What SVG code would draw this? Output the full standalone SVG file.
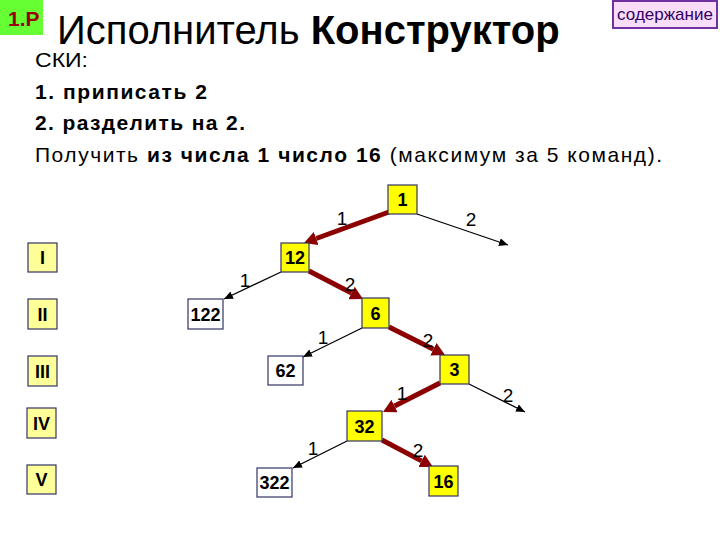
<svg xmlns="http://www.w3.org/2000/svg" width="720" height="540" viewBox="0 0 720 540">
<style>
text{font-family:"Liberation Sans",Arial,sans-serif;}
.nt{font-size:18px;font-weight:bold;text-anchor:middle;fill:#000;}
.el{font-size:19px;text-anchor:middle;fill:#000;}
.y{fill:#FFFF00;stroke:#333366;stroke-width:1.2;}
.w{fill:#FFFFFF;stroke:#333366;stroke-width:1.2;}
.lv{fill:#FFFF99;stroke:#333366;stroke-width:1.2;}
.thick{stroke:#8B0000;stroke-width:5;fill:none;marker-end:url(#ah);}
.thin{stroke:#000;stroke-width:1.3;fill:none;marker-end:url(#at);}
.body{font-size:21px;fill:#000;}
</style>
<defs>
<marker id="ah" markerUnits="userSpaceOnUse" viewBox="0 0 13 14" refX="0" refY="7" markerWidth="13" markerHeight="14" orient="auto"><path d="M0,0 L13,7 L0,14 z" fill="#8B0000"/></marker>
<marker id="at" markerUnits="userSpaceOnUse" viewBox="0 0 9 8" refX="9" refY="4" markerWidth="9" markerHeight="8" orient="auto"><path d="M0,0 L9,4 L0,8 z" fill="#000"/></marker>
</defs>
<rect width="720" height="540" fill="#FFFFFF"/>
<g id="badge">
<rect x="0" y="0" width="43" height="35" fill="#66FF33"/>
<text x="8" y="26" font-size="21" font-weight="bold" fill="#990000">1.P</text>
</g>
<g id="title">
<text x="57" y="44" font-size="40" fill="#000">Исполнитель <tspan font-weight="bold">Конструктор</tspan></text>
</g>
<g id="contents">
<rect x="613" y="1" width="104" height="27" fill="#F8DCF8" stroke="#7030A0" stroke-width="2"/>
<text x="665" y="20" font-size="17" fill="#330066" text-anchor="middle">содержание</text>
</g>
<g id="text">
<text class="body" x="35" y="67" textLength="53" lengthAdjust="spacingAndGlyphs">СКИ:</text>
<text class="body" x="35" y="99" font-weight="bold" textLength="172">1. приписать 2</text>
<text class="body" x="35" y="130" font-weight="bold" textLength="210">2. разделить на 2.</text>
<text class="body" x="35" y="162" textLength="627">Получить <tspan font-weight="bold">из числа 1 число 16</tspan> (максимум за 5 команд).</text>
</g>
<g id="connectors">
<line class="thick" x1="389" y1="212" x2="316.2" y2="238.5"/>
<line class="thick" x1="309" y1="271" x2="351.5" y2="293"/>
<line class="thick" x1="389" y1="327" x2="433.4" y2="349.2"/>
<line class="thick" x1="440" y1="383" x2="394.6" y2="406.1"/>
<line class="thick" x1="382" y1="440" x2="421.5" y2="460.9"/>
<line class="thin" x1="417" y1="214" x2="508" y2="245"/>
<line class="thin" x1="281" y1="272" x2="224" y2="299"/>
<line class="thin" x1="362" y1="328" x2="303" y2="357"/>
<line class="thin" x1="469" y1="384" x2="525" y2="412"/>
<line class="thin" x1="347" y1="441" x2="293" y2="468"/>
<text class="el" x="342" y="225">1</text>
<text class="el" x="471" y="226">2</text>
<text class="el" x="245" y="287">1</text>
<text class="el" x="350" y="291">2</text>
<text class="el" x="323" y="344">1</text>
<text class="el" x="428" y="347">2</text>
<text class="el" x="402" y="400">1</text>
<text class="el" x="508" y="402">2</text>
<text class="el" x="313" y="455">1</text>
<text class="el" x="418" y="457">2</text>
</g>
<g id="lvl1"><rect class="lv" x="28" y="243" width="29" height="29"/><text class="nt" x="42.5" y="264">I</text></g>
<g id="lvl2"><rect class="lv" x="28" y="299" width="29" height="30"/><text class="nt" x="42.5" y="320.5">II</text></g>
<g id="lvl3"><rect class="lv" x="28" y="356" width="29" height="30"/><text class="nt" x="42.5" y="377.5">III</text></g>
<g id="lvl4"><rect class="lv" x="27" y="408" width="29" height="30"/><text class="nt" x="41.5" y="429.5">IV</text></g>
<g id="lvl5"><rect class="lv" x="27" y="465" width="29" height="29"/><text class="nt" x="41.5" y="486">V</text></g>
<g id="n1"><rect class="y" x="388" y="185" width="29" height="29"/><text class="nt" x="402.5" y="206">1</text></g>
<g id="n12"><rect class="y" x="281" y="243" width="28" height="29"/><text class="nt" x="295" y="264">12</text></g>
<g id="n122"><rect class="w" x="188" y="299" width="35" height="30"/><text class="nt" x="205.5" y="320.5">122</text></g>
<g id="n6"><rect class="y" x="362" y="298" width="27" height="30"/><text class="nt" x="375.5" y="319.5">6</text></g>
<g id="n62"><rect class="w" x="268" y="356" width="35" height="29"/><text class="nt" x="285.5" y="377">62</text></g>
<g id="n3"><rect class="y" x="440" y="355" width="29" height="29"/><text class="nt" x="454.5" y="376">3</text></g>
<g id="n32"><rect class="y" x="347" y="411" width="35" height="30"/><text class="nt" x="364.5" y="432.5">32</text></g>
<g id="n322"><rect class="w" x="257" y="468" width="35" height="29"/><text class="nt" x="274.5" y="489">322</text></g>
<g id="n16"><rect class="y" x="429" y="466" width="29" height="30"/><text class="nt" x="443.5" y="487.5">16</text></g>
</svg>
